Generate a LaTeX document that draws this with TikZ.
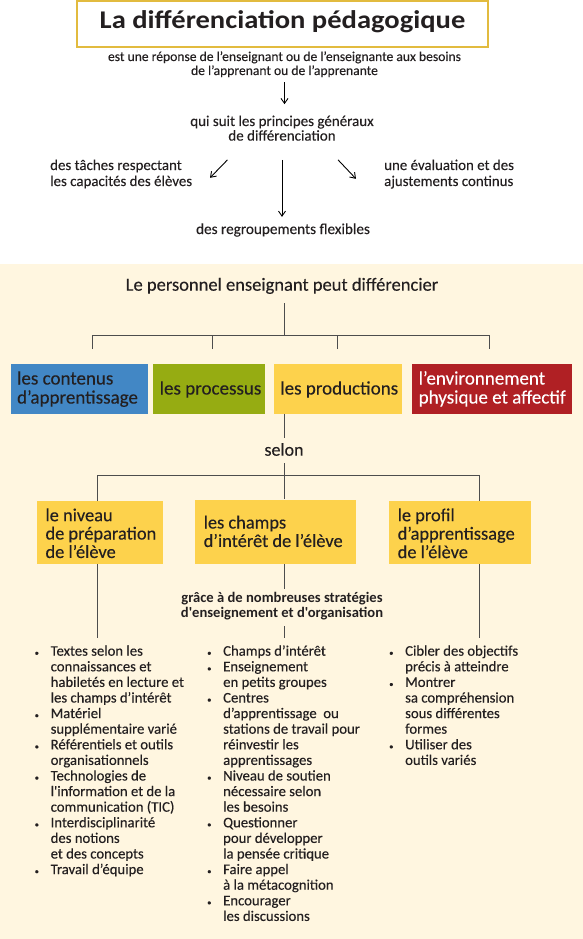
\documentclass[tikz,border=0pt]{standalone}
\usepackage{fontspec}
\setmainfont{Carlito}[Ligatures=TeXOff, UprightFeatures={FakeBold=0.2}]
\usetikzlibrary{arrows.meta}
\definecolor{gold}{RGB}{226,187,63}
\definecolor{cream}{RGB}{255,246,224}
\definecolor{cblue}{RGB}{66,135,197}
\definecolor{cgreen}{RGB}{150,172,18}
\definecolor{cyellow}{RGB}{253,210,76}
\definecolor{cred}{RGB}{176,32,36}
\definecolor{linegray}{RGB}{77,77,77}
\definecolor{ink}{RGB}{35,31,32}
\newcommand\fs[2]{\fontsize{#1}{#2}\selectfont}
\newcommand\ctab[1]{\begin{tabular}[t]{@{}c@{}}#1\end{tabular}}
\newcommand\ltab[1]{\begin{tabular}[t]{@{}l@{}}#1\end{tabular}}
\newcommand\btab[2]{\makebox[#1][l]{\begin{tabular}[t]{@{}l@{}}#2\end{tabular}}}
\newcommand\listtab[1]{\begin{tabular}[t]{@{}p{16pt}@{}l@{}}#1\end{tabular}}
\newcommand\bul{{\fs{8.5}{8}•}}
\begin{document}
\begin{tikzpicture}[x=1pt,y=-1pt,
  every node/.style={inner sep=0pt, text=ink},
  arr/.style={draw=black, line width=0.9pt, -{Straight Barb[length=5pt,width=7pt]}},
  tree/.style={draw=linegray, line width=1pt},
  boxA/.style={anchor=north west, inner xsep=6.5pt, inner ysep=0pt, font=\fs{19}{19}, minimum height=49.5},
  boxB/.style={anchor=north west, inner xsep=8.5pt, inner ysep=0pt, font=\fs{18.4}{18.3}, fill=cyellow},
  listcol/.style={anchor=base west, font=\fs{14.7}{15.6}},
]
\useasboundingbox (0,0) rectangle (583,939);
\fill[cream] (0,264) rectangle (583,939);

% ---------- top part ----------
\node[draw=gold, line width=1.6pt, fill=white, minimum width=411, minimum height=46,
      text height=15pt, text depth=5pt,
      font=\fs{25.5}{30}\bfseries\addfontfeature{FakeStretch=1.12}] (title) at (282.5,24) {La différenciation pédagogique};
\node[anchor=base, font=\fs{13.6}{14}] (sub) at (284.5,61)
  {\ctab{est une réponse de l’enseignant ou de l’enseignante aux besoins\\de l’apprenant ou de l’apprenante}};
\node[anchor=base, font=\fs{15}{14}] (qui) at (282,126)
  {\ctab{qui suit les principes généraux\\de différenciation}};
\node[anchor=base west, font=\fs{14.9}{16}] (taches) at (50,170)
  {\ltab{des tâches respectant\\les capacités des élèves}};
\node[anchor=base west, font=\fs{14.9}{16}] (eval) at (384,170)
  {\ltab{une évaluation et des\\ajustements continus}};
\node[anchor=base, font=\fs{15.2}{15.6}] (reg) at (283,234)
  {\ctab{des regroupements flexibles}};

\draw[arr, shorten <=2.8pt, shorten >=11.2pt] (sub.south) -- (sub.south |- qui.north);
\draw[arr, shorten <=14.8pt, shorten >=6pt] (qui.south) -- (qui.south |- reg.north);
\draw[arr] ([shift={(-54.5,14.8)}]qui.south) -- ++(-17.5,18);
\draw[arr] ([shift={(56,14.8)}]qui.south) -- ++(18,19);

% ---------- cream part ----------
\node[anchor=base, font=\fs{18.5}{19}] (pers) at (282,290.7)
  {\ctab{Le personnel enseignant peut différencier}};

\node[boxA, fill=cblue, minimum width=137.2, text height=20.3pt, text depth=29.2pt] (cont) at (10.4,364)
  {\btab{124.2pt}{les contenus\\d’apprentissage}};
\node[boxA, fill=cgreen, minimum width=111.5, text height=30.3pt, text depth=19.2pt] (proc) at (153,364)
  {\btab{98.5pt}{les processus}};
\node[boxA, fill=cyellow, minimum width=128, text height=30.3pt, text depth=19.2pt] (prod) at (273.6,364)
  {\btab{115pt}{les productions}};
\node[boxA, fill=cred, minimum width=160, text=white, text height=20.3pt, text depth=29.2pt] (env) at (412,364)
  {\btab{147pt}{l’environnement\\physique et affectif}};

\coordinate (j1) at (284,335);
\coordinate (d1) at (92,349);
\coordinate (d2) at (212,349);
\coordinate (d3) at (337.5,349);
\coordinate (d4) at (489,349);
\draw[tree, shorten <=6.6pt] (j1 |- pers.south) -- (j1);
\draw[tree] (d1) -- (d1 |- j1) -- (d4 |- j1) -- (d4);
\draw[tree] (d2) -- (d2 |- j1);
\draw[tree] (d3) -- (d3 |- j1);

\node[anchor=base, font=\fs{18}{19}] (selon) at (284,455.7) {\ctab{selon}};
\draw[tree, shorten >=4.4pt] (selon.north |- prod.south) -- (selon.north);

\node[boxB, minimum width=125.5, text height=20pt, text depth=42.5pt] (niv) at (36.8,501)
  {\btab{108.5pt}{le niveau\\de préparation\\de l’élève}};
\node[boxB, minimum width=161, text height=29pt, text depth=35.4pt] (champs) at (195,499.3)
  {\btab{144pt}{les champs\\d’intérêt de l’élève}};
\node[boxB, minimum width=141.5, text height=20pt, text depth=42.5pt] (profil) at (389,501)
  {\btab{124.5pt}{le profil\\d’apprentissage\\de l’élève}};

\coordinate (j2) at (284,475);
\coordinate (e1) at (97,638);
\coordinate (e2) at (284,638);
\coordinate (e3) at (479,638);
\draw[tree, shorten <=1.6pt] (selon.south) -- (j2);
\draw[tree] (e1 |- niv.north) -- (e1 |- j2) -- (e3 |- j2) -- (e3 |- profil.north);
\draw[tree] (j2) -- (j2 |- champs.north);

\node[anchor=base, font=\fs{14.6}{15}\bfseries] (grace) at (282,602)
  {\ctab{grâce à de nombreuses stratégies\\d'enseignement et d'organisation}};

\draw[tree] (e1 |- niv.south) -- (e1);
\draw[tree] (e3 |- profil.south) -- (e3);
\draw[tree, shorten >=2.5pt] (e2 |- champs.south) -- (e2 |- grace.north);
\draw[tree, shorten <=4.5pt] (e2 |- grace.south) -- (e2);

% ---------- lists ----------
\node[listcol] (listL) at (34.5,655.7) {\listtab{
\bul & Textes selon les\\
 & connaissances et\\
 & habiletés en lecture et\\
 & les champs d’intérêt\\
\bul & Matériel\\
 & supplémentaire varié\\
\bul & Référentiels et outils\\
 & organisationnels\\
\bul & Technologies de\\
 & l'information et de la\\
 & communication (TIC)\\
\bul & Interdisciplinarité\\
 & des notions\\
 & et des concepts\\
\bul & Travail d’équipe}};

\node[listcol] (listM) at (207,655.7) {\listtab{
\bul & Champs d’intérêt\\
\bul & Enseignement\\
 & en petits groupes\\
\bul & Centres\\
 & d’apprentissage\ \ ou\\
 & stations de travail pour\\
 & réinvestir les\\
 & apprentissages\\
\bul & Niveau de soutien\\
 & nécessaire selon\\
 & les besoins\\
\bul & Questionner\\
 & pour développer\\
 & la pensée critique\\
\bul & Faire appel\\
 & à la métacognition\\
\bul & Encourager\\
 & les discussions}};

\node[listcol] (listR) at (389,655.7) {\listtab{
\bul & Cibler des objectifs\\
 & précis à atteindre\\
\bul & Montrer\\
 & sa compréhension\\
 & sous différentes\\
 & formes\\
\bul & Utiliser des\\
 & outils variés}};
\end{tikzpicture}
\end{document}
